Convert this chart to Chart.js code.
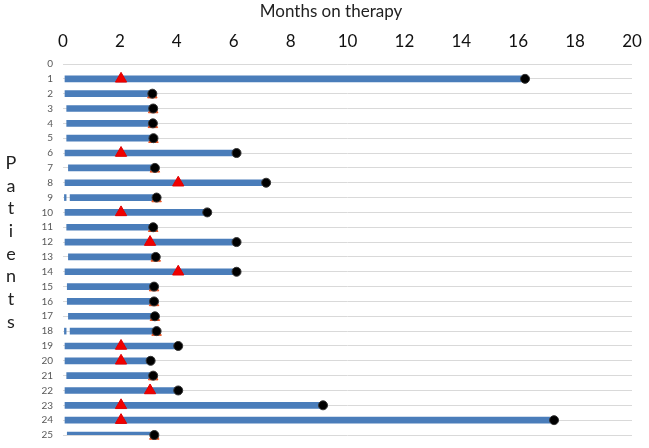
<!DOCTYPE html>
<html>
<head>
<meta charset="utf-8">
<script src="https://cdn.jsdelivr.net/npm/chart.js@4/dist/chart.umd.min.js"></script>
<style>
  body { margin: 0; background: #fff; }
</style>
</head>
<body>
<canvas id="chart" width="649" height="448"></canvas>
<script>
// Patients 1..25
const patients = [1, 2, 3, 4, 5, 6, 7, 8, 9, 10, 11, 12, 13, 14, 15, 16, 17, 18, 19, 20, 21, 22, 23, 24, 25];
// Start and end of therapy (months)
const startMonths = [0.07, 0.07, 0.13, 0.13, 0.13, 0.07, 0.19, 0.07, 0.25, 0.07, 0.13, 0.07, 0.19, 0.07, 0.15, 0.15, 0.19, 0.25, 0.07, 0.07, 0.13, 0.07, 0.07, 0.07, 0.15];
const endMonths = [16.24, 3.14, 3.17, 3.16, 3.18, 6.1, 3.23, 7.14, 3.29, 5.07, 3.17, 6.1, 3.26, 6.1, 3.2, 3.2, 3.23, 3.29, 4.05, 3.08, 3.17, 4.05, 9.14, 17.26, 3.21];
// Red triangle events (null = none)
const eventMonths = [2.04, null, null, null, null, 2.04, null, 4.05, null, 2.04, null, 3.06, null, 4.05, null, null, null, null, 2.04, 2.04, null, 3.06, 2.04, 2.04, null];
// Small markers hidden under the end dot
const endEventRows = [2, 3, 4, 5, 7, 9, 11, 13, 15, 16, 17, 18, 21, 25];
// Tiny marks at start of rows 9 and 18
const startMarkRows = [9, 18];
const xTicks = [0, 2, 4, 6, 8, 10, 12, 14, 16, 18, 20];

const bars = patients.map((p, i) => ({ x: [startMonths[i], endMonths[i]], y: p }));
const marks = startMarkRows.map(p => ({ x: [0.05, 0.11], y: p }));
const dots = patients.map((p, i) => ({ x: endMonths[i], y: p }));
const events = patients.map((p, i) => eventMonths[i] === null ? null : { x: eventMonths[i], y: p }).filter(d => d);
const endEvents = endEventRows.map(p => ({ x: endMonths[p - 1], y: p + 0.1 }));

// Title and stacked "Patients" label
const labels = {
    id: 'labels',
    afterDraw(chart) {
        const ctx = chart.ctx;
        ctx.save();
        ctx.fillStyle = '#222';
        ctx.textAlign = 'center';
        ctx.textBaseline = 'middle';
        ctx.font = '17px Lato, "Open Sans", sans-serif';
        ctx.fillText('Months on therapy', 331, 12);
        ctx.font = '18px Lato, "Open Sans", sans-serif';
        'Patients'.split('').forEach((ch, i) => {
            ctx.fillText(ch, 11, 163 + i * 22.7);
        });
        ctx.restore();
    }
};

new Chart(document.getElementById('chart'), {
    type: 'bar',
    data: {
        datasets: [
            {
                type: 'line',
                data: endEvents,
                showLine: false,
                pointStyle: 'triangle',
                pointRadius: 5.5,
                pointBackgroundColor: '#e8501e',
                pointBorderColor: '#e8501e',
                clip: false,
                order: 3
            },
            {
                type: 'line',
                data: dots,
                showLine: false,
                pointStyle: 'circle',
                pointRadius: 4.5,
                pointBackgroundColor: '#000',
                pointBorderColor: '#333',
                pointBorderWidth: 1,
                clip: false,
                order: 1
            },
            {
                type: 'line',
                data: events,
                showLine: false,
                pointStyle: 'triangle',
                pointRadius: 6.5,
                pointBackgroundColor: '#f00000',
                pointBorderColor: '#e00000',
                clip: false,
                order: 0
            },
            {
                data: bars,
                backgroundColor: '#4a7dba',
                barThickness: 6,
                grouped: false,
                order: 5
            },
            {
                data: marks,
                backgroundColor: '#4a7dba',
                barThickness: 6,
                grouped: false,
                order: 5
            }
        ]
    },
    options: {
        indexAxis: 'y',
        responsive: false,
        animation: false,
        layout: { padding: { left: 0, right: 17, top: 0, bottom: 13 } },
        plugins: {
            legend: { display: false },
            tooltip: { enabled: false }
        },
        scales: {
            x: {
                type: 'linear',
                position: 'top',
                min: 0,
                max: 20,
                afterBuildTicks(scale) {
                    scale.ticks = xTicks.map(v => ({ value: v }));
                },
                afterFit(scale) {
                    scale.height = 64;
                    scale.paddingLeft = 0;
                    scale.paddingRight = 0;
                },
                grid: { display: false, drawTicks: false },
                border: { display: false },
                ticks: {
                    color: '#111',
                    padding: 12,
                    font: { family: 'Lato, "Open Sans", sans-serif', size: 17 }
                }
            },
            y: {
                type: 'linear',
                reverse: true,
                offset: false,
                min: 0,
                max: 25,
                afterBuildTicks(scale) {
                    scale.ticks = [0].concat(patients).map(v => ({ value: v }));
                },
                afterFit(scale) {
                    scale.width = 63;
                    scale.paddingTop = 0;
                    scale.paddingBottom = 0;
                },
                grid: { color: '#d9d9d9', lineWidth: 1, drawTicks: false, offset: false },
                border: { display: false },
                ticks: {
                    color: '#595959',
                    padding: 10,
                    autoSkip: false,
                    font: { family: 'Lato, "Open Sans", sans-serif', size: 10 }
                }
            }
        }
    },
    plugins: [labels]
});
</script>
</body>
</html>
